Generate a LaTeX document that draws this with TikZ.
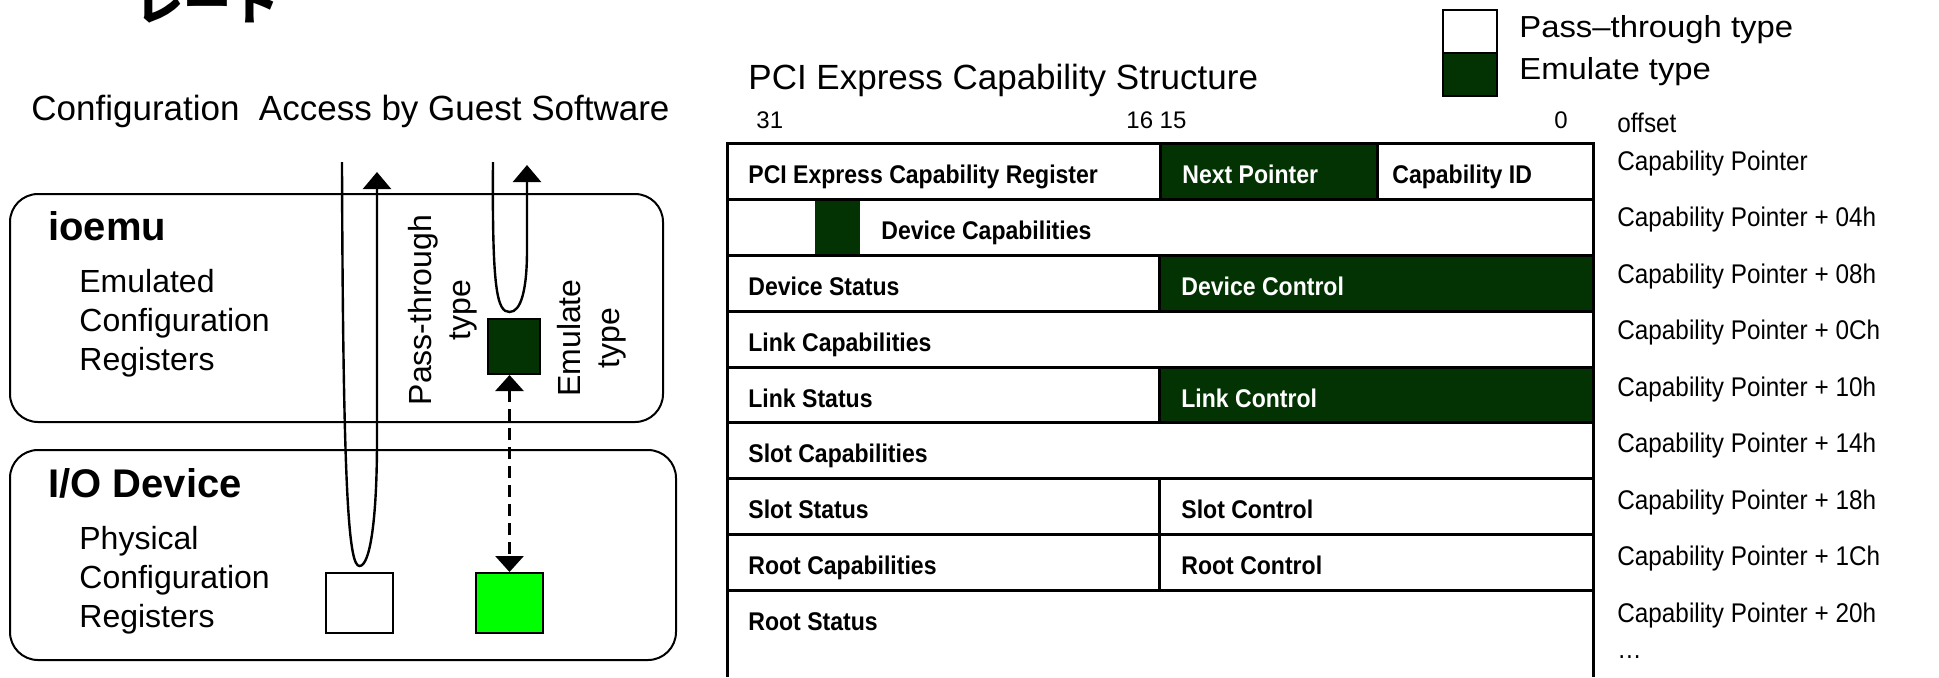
\documentclass[tikz,border=0pt]{standalone}
\usepackage{fontspec}
\setmainfont{Liberation Sans}
\newfontfamily\cellfont[FakeStretch=0.9]{Liberation Sans}
\newfontfamily\gothfont[FakeStretch=1.08]{Liberation Sans}
\newfontfamily\cjkfont{Noto Sans CJK JP}
\usetikzlibrary{arrows.meta,calc}
\definecolor{emugreen}{RGB}{3,51,3}
\definecolor{physgreen}{RGB}{0,255,0}
\tikzset{
	boxline/.style={line width=1pt, rounded corners=14pt},
	regbox/.style={draw, line width=1pt, inner sep=0pt},
	bodytext/.style={inner sep=0pt, font=\fontsize{16}{19.5}\selectfont},
	titletext/.style={inner sep=0pt, anchor=base west, font=\fontsize{17.5}{21}\selectfont},
	boldtext/.style={inner sep=0pt, anchor=base west, font=\fontsize{20}{24}\selectfont\bfseries},
	celltext/.style={inner sep=0pt, anchor=base west, font=\cellfont\fontsize{12.8}{15}\selectfont\bfseries},
	offtext/.style={inner sep=0pt, anchor=base west, font=\cellfont\fontsize{13.5}{16}\selectfont},
	keytext/.style={inner sep=0pt, anchor=base west, font=\gothfont\fontsize{15.2}{18}\selectfont},
	bittext/.style={inner sep=0pt, font=\fontsize{12}{14}\selectfont},
	cellline/.style={line width=1.5pt},
	access/.style={line width=1.2pt, -{Triangle[width=14pt,length=8.5pt]}},
	dashlink/.style={line width=1.5pt, dash pattern=on 6pt off 3.5pt, {Triangle[width=14pt,length=8pt]}-{Triangle[width=14pt,length=8pt]}}
}
\begin{document}
\begin{tikzpicture}[x=0.5pt, y=-0.5pt]
			%%%%% START %%%%%
			\useasboundingbox (0,0) rectangle (1939,677);
			\fill[white] (0,0) rectangle (1939,677);
			
			\node[anchor=base west, inner sep=0pt, font=\cjkfont\bfseries\fontsize{24}{28}\selectfont] (cuttitle) at (135,20) {レート};
			
			\node[titletext] (guesttitle) at (31,120) {Configuration\ \ Access by Guest Software};
			
			% ioemu and device boxes
			\draw[boxline] (10,194) rectangle (663,422);
			\draw[boxline] (10,450) rectangle (676,660);
			
			\node[boldtext] (ioemu) at (48,240) {ioemu};
			\node[bodytext, anchor=west, align=left] (emuregs) at (79,323) {Emulated\\Configuration\\Registers};
			\node[boldtext] (iodev) at (48,497) {I/O Device};
			\node[bodytext, anchor=west, align=left] (physregs) at (79,580) {Physical\\Configuration\\Registers};
			
			\node[bodytext, rotate=90, align=center] (ptlabel) at (443,310) {Pass-through\\type};
			\node[bodytext, rotate=90, align=center] (emlabel) at (592,338) {Emulate\\type};
			
			\node[regbox, fill=white, minimum width=33.5pt, minimum height=30pt] (ptphys) at (359.5,603) {};
			\node[regbox, fill=physgreen, minimum width=33.5pt, minimum height=30pt] (emphys) at (509.5,603) {};
			\node[regbox, fill=emugreen, minimum width=26pt, minimum height=27.5pt] (emreg) at (514,346.5) {};
			
			\coordinate (ptin) at (342,162);
			\coordinate (ptout) at (377,172);
			\coordinate (emin) at (493,162);
			\coordinate (emout) at (527,165);
			
			\draw[access] (ptin) .. controls (343,500) and (349,566) .. ($(ptphys.north)+(0,-6)$) .. controls (370,566) and (377,520) .. (377,440) -- (ptout);
			\draw[access] (emin) .. controls (492,290) and (497,312) .. ($(emreg.north -| emphys.north)+(0,-6)$) .. controls (521,312) and (527,290) .. (527,250) -- (emout);
			\draw[dashlink] (emreg.south -| emphys.north) -- (emphys.north);
			
			% capability structure
			\node[titletext] (captitle) at (748,89) {PCI Express Capability Structure};
			\node[bittext, anchor=base west] (bithi) at (756,128) {31};
			\node[bittext, anchor=base west] (bitmid) at (1126,128) {16 15};
			\node[bittext, anchor=base east] (bitlo) at (1568,128) {0};
			
			\fill[emugreen] (1160,143.5) rectangle (1377,199.5);
			\fill[emugreen] (815,199.5) rectangle (860,255);
			\fill[emugreen] (1159,255) rectangle (1593,311);
			\fill[emugreen] (1159,367) rectangle (1593,422.5);
			
			\draw[cellline] (727,677) -- (727,143.5) -- (1593,143.5) -- (1593,677);
			\draw[cellline] (727,199.5) -- (1593,199.5);
			\draw[cellline] (727,255) -- (1593,255);
			\draw[cellline] (727,311) -- (1593,311);
			\draw[cellline] (727,367) -- (1593,367);
			\draw[cellline] (727,422.5) -- (1593,422.5);
			\draw[cellline] (727,478) -- (1593,478);
			\draw[cellline] (727,534) -- (1593,534);
			\draw[cellline] (727,590) -- (1593,590);
			\draw[cellline] (1160,143.5) -- (1160,199.5);
			\draw[cellline] (1377,143.5) -- (1377,199.5);
			\draw[cellline] (1159,255) -- (1159,311);
			\draw[cellline] (1159,367) -- (1159,422.5);
			\draw[cellline] (1159,478) -- (1159,590);
			
			\node[celltext] (pcireg) at (748,183.5) {PCI Express Capability Register};
			\node[celltext, text=white] (nextptr) at (1182,183.5) {Next Pointer};
			\node[celltext] (capid) at (1392,183.5) {Capability ID};
			\node[celltext] (devcap) at (881,239.5) {Device Capabilities};
			\node[celltext] (devsta) at (748,295) {Device Status};
			\node[celltext, text=white] (devctl) at (1181,295) {Device Control};
			\node[celltext] (lnkcap) at (748,351) {Link Capabilities};
			\node[celltext] (lnksta) at (748,407) {Link Status};
			\node[celltext, text=white] (lnkctl) at (1181,407) {Link Control};
			\node[celltext] (sltcap) at (748,462.5) {Slot Capabilities};
			\node[celltext] (sltsta) at (748,518) {Slot Status};
			\node[celltext] (sltctl) at (1181,518) {Slot Control};
			\node[celltext] (rootcap) at (748,574) {Root Capabilities};
			\node[celltext] (rootctl) at (1181,574) {Root Control};
			\node[celltext] (rootsta) at (748,630) {Root Status};
			
			% offsets
			\node[offtext] (offhdr) at (1617,132) {offset};
			\node[offtext] (off00) at (1617,170) {Capability Pointer};
			\node[offtext] (off04) at (1617,226.5) {Capability Pointer + 04h};
			\node[offtext] (off08) at (1617,283) {Capability Pointer + 08h};
			\node[offtext] (off0c) at (1617,339.5) {Capability Pointer + 0Ch};
			\node[offtext] (off10) at (1617,396) {Capability Pointer + 10h};
			\node[offtext] (off14) at (1617,452.5) {Capability Pointer + 14h};
			\node[offtext] (off18) at (1617,509) {Capability Pointer + 18h};
			\node[offtext] (off1c) at (1617,565.5) {Capability Pointer + 1Ch};
			\node[offtext] (off20) at (1617,622) {Capability Pointer + 20h};
			\node[offtext] (offmore) at (1617,658) {…};
			
			% legend
			\draw[line width=1pt, fill=white] (1443,10) rectangle (1497,53);
			\draw[line width=1pt, fill=emugreen] (1443,53) rectangle (1497,96);
			\node[keytext] (ptkey) at (1519,37) {Pass–through type};
			\node[keytext] (emkey) at (1519,79) {Emulate type};
			
			%%%%% END %%%%%
\end{tikzpicture}
\end{document}
